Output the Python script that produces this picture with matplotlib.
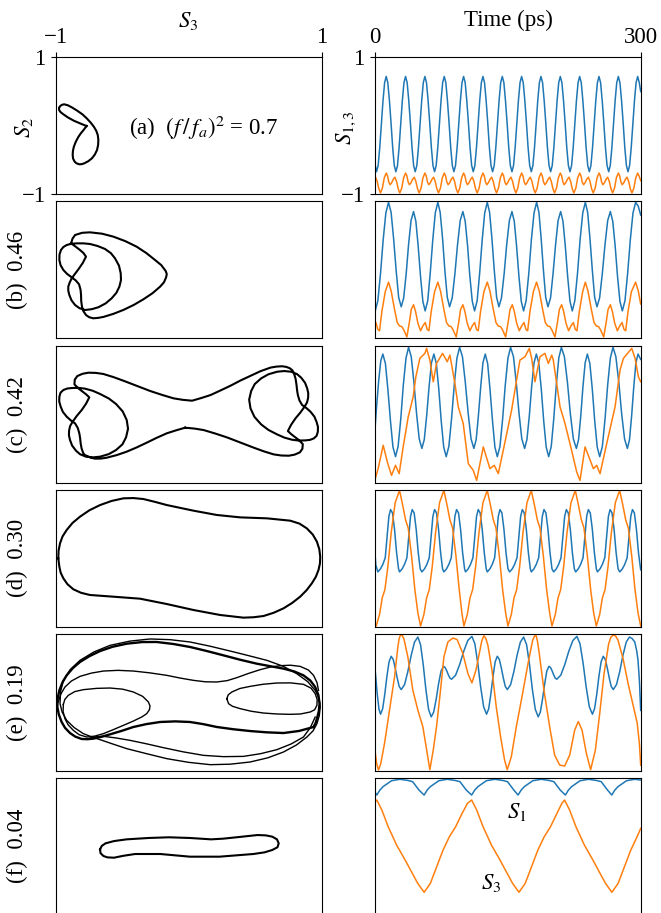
import numpy as np
import matplotlib
matplotlib.use("Agg")
import matplotlib.pyplot as plt

# ------------------------------------------
# Left column: trajectories on the (S3, S2) plane
# ------------------------------------------
A_LOOP = [(-0.767, -0.003), (-0.815, 0.035), (-0.862, 0.074), (-0.905, 0.120), (-0.941, 0.168),
          (-0.962, 0.200), (-0.973, 0.231), (-0.973, 0.265), (-0.964, 0.289), (-0.952, 0.306),
          (-0.935, 0.314), (-0.908, 0.300), (-0.878, 0.270), (-0.838, 0.222), (-0.798, 0.168),
          (-0.765, 0.108), (-0.735, 0.045), (-0.712, -0.013), (-0.694, -0.072), (-0.682, -0.138),
          (-0.678, -0.207), (-0.680, -0.282), (-0.688, -0.353), (-0.704, -0.418), (-0.726, -0.474),
          (-0.753, -0.516), (-0.783, -0.547), (-0.803, -0.560), (-0.821, -0.562), (-0.842, -0.548),
          (-0.856, -0.524), (-0.868, -0.478), (-0.871, -0.426), (-0.869, -0.365), (-0.862, -0.305),
          (-0.848, -0.235), (-0.830, -0.168), (-0.810, -0.110), (-0.789, -0.061), (-0.767, -0.003)]

B_LOOP = [(-0.883, 0.386), (-0.872, 0.455), (-0.853, 0.508), (-0.800, 0.540), (-0.741, 0.547),
          (-0.650, 0.527), (-0.565, 0.484), (-0.475, 0.418), (-0.390, 0.337), (-0.318, 0.245),
          (-0.252, 0.143), (-0.205, 0.068), (-0.172, -0.018), (-0.164, -0.062), (-0.169, -0.110),
          (-0.185, -0.182), (-0.214, -0.246), (-0.272, -0.343), (-0.340, -0.431), (-0.412, -0.513),
          (-0.490, -0.586), (-0.565, -0.643), (-0.640, -0.688), (-0.680, -0.702), (-0.716, -0.708),
          (-0.747, -0.692), (-0.771, -0.660), (-0.791, -0.602), (-0.801, -0.538), (-0.807, -0.452),
          (-0.808, -0.368), (-0.812, -0.290), (-0.823, -0.212), (-0.848, -0.155), (-0.878, -0.110),
          (-0.913, -0.060), (-0.941, -0.003), (-0.962, 0.068), (-0.971, 0.143), (-0.970, 0.222),
          (-0.959, 0.289), (-0.941, 0.332), (-0.916, 0.362), (-0.880, 0.380), (-0.841, 0.386),
          (-0.790, 0.386), (-0.741, 0.377), (-0.683, 0.347), (-0.628, 0.304), (-0.584, 0.243),
          (-0.553, 0.168), (-0.523, 0.060), (-0.510, -0.051), (-0.508, -0.150), (-0.520, -0.246),
          (-0.543, -0.337), (-0.578, -0.416), (-0.623, -0.490), (-0.678, -0.547), (-0.728, -0.575),
          (-0.778, -0.587), (-0.820, -0.560), (-0.853, -0.514), (-0.880, -0.445), (-0.896, -0.368),
          (-0.904, -0.305), (-0.904, -0.246), (-0.893, -0.183), (-0.878, -0.124), (-0.854, -0.060),
          (-0.828, 0.007), (-0.795, 0.100), (-0.771, 0.192), (-0.790, 0.245), (-0.816, 0.289),
          (-0.850, 0.340), (-0.883, 0.386)]

C_LOOP = [(-0.026, -0.197), (-0.095, -0.236), (-0.164, -0.279), (-0.240, -0.345), (-0.315, -0.416),
          (-0.390, -0.485), (-0.465, -0.547), (-0.540, -0.597), (-0.615, -0.635), (-0.660, -0.648),
          (-0.703, -0.649), (-0.735, -0.635), (-0.761, -0.611), (-0.780, -0.595), (-0.791, -0.571),
          (-0.804, -0.500), (-0.811, -0.425), (-0.815, -0.350), (-0.821, -0.279), (-0.833, -0.200),
          (-0.853, -0.134), (-0.885, -0.090), (-0.916, -0.036), (-0.945, 0.035), (-0.961, 0.110),
          (-0.972, 0.185), (-0.971, 0.256), (-0.962, 0.315), (-0.941, 0.353), (-0.912, 0.375),
          (-0.878, 0.382), (-0.828, 0.385), (-0.778, 0.373), (-0.720, 0.342), (-0.665, 0.295),
          (-0.600, 0.230), (-0.545, 0.149), (-0.495, 0.040), (-0.465, -0.085), (-0.455, -0.212),
          (-0.470, -0.338), (-0.497, -0.440), (-0.545, -0.523), (-0.600, -0.583), (-0.665, -0.620),
          (-0.718, -0.630), (-0.771, -0.620), (-0.815, -0.585), (-0.846, -0.533), (-0.875, -0.458),
          (-0.891, -0.377), (-0.899, -0.308), (-0.898, -0.240), (-0.890, -0.172), (-0.871, -0.109),
          (-0.840, -0.025), (-0.803, 0.061), (-0.770, 0.155), (-0.746, 0.246), (-0.770, 0.290),
          (-0.796, 0.329), (-0.830, 0.380), (-0.858, 0.436), (-0.855, 0.505), (-0.836, 0.557),
          (-0.797, 0.590), (-0.753, 0.606), (-0.697, 0.603), (-0.640, 0.587), (-0.565, 0.542),
          (-0.490, 0.489), (-0.390, 0.414), (-0.289, 0.339), (-0.200, 0.282), (-0.114, 0.232),
          (-0.045, 0.210),
          (0.026, 0.197), (0.095, 0.236), (0.164, 0.279), (0.240, 0.347), (0.315, 0.416),
          (0.390, 0.492), (0.465, 0.560), (0.540, 0.628), (0.615, 0.680), (0.660, 0.695),
          (0.703, 0.700), (0.735, 0.690), (0.761, 0.670), (0.780, 0.640), (0.791, 0.600),
          (0.804, 0.515), (0.811, 0.425), (0.815, 0.350), (0.821, 0.279), (0.833, 0.200),
          (0.853, 0.134), (0.885, 0.090), (0.916, 0.036), (0.945, -0.035), (0.961, -0.110),
          (0.972, -0.185), (0.971, -0.256), (0.962, -0.315), (0.941, -0.353), (0.912, -0.375),
          (0.878, -0.382), (0.828, -0.385), (0.778, -0.373), (0.720, -0.342), (0.665, -0.295),
          (0.600, -0.230), (0.545, -0.149), (0.495, -0.040), (0.465, 0.085), (0.455, 0.212),
          (0.470, 0.338), (0.497, 0.440), (0.545, 0.523), (0.600, 0.583), (0.665, 0.620),
          (0.718, 0.630), (0.771, 0.620), (0.815, 0.585), (0.846, 0.533), (0.875, 0.458),
          (0.891, 0.377), (0.899, 0.308), (0.898, 0.240), (0.890, 0.172), (0.871, 0.109),
          (0.840, 0.025), (0.803, -0.061), (0.770, -0.155), (0.746, -0.246), (0.770, -0.290),
          (0.796, -0.329), (0.830, -0.380), (0.858, -0.436), (0.855, -0.505), (0.836, -0.557),
          (0.797, -0.590), (0.753, -0.606), (0.697, -0.603), (0.640, -0.587), (0.565, -0.542),
          (0.490, -0.489), (0.390, -0.414), (0.289, -0.339), (0.200, -0.282), (0.114, -0.232),
          (0.045, -0.210), (-0.026, -0.197)]

D_LOOP = [(-0.979, -0.002), (-0.977, 0.107), (-0.966, 0.217), (-0.947, 0.318), (-0.916, 0.412),
          (-0.872, 0.515), (-0.816, 0.606), (-0.745, 0.700), (-0.665, 0.776), (-0.578, 0.836),
          (-0.490, 0.874), (-0.415, 0.878), (-0.340, 0.864), (-0.252, 0.822), (-0.164, 0.776),
          (0.036, 0.694), (0.212, 0.631), (0.388, 0.596), (0.588, 0.582), (0.763, 0.548),
          (0.833, 0.505), (0.888, 0.436), (0.933, 0.345), (0.964, 0.241), (0.982, 0.132),
          (0.989, 0.022), (0.987, -0.075), (0.976, -0.172), (0.956, -0.272), (0.926, -0.367),
          (0.886, -0.468), (0.838, -0.562), (0.779, -0.652), (0.713, -0.732), (0.640, -0.796),
          (0.563, -0.844), (0.488, -0.862), (0.412, -0.868), (0.237, -0.829), (0.036, -0.756),
          (-0.164, -0.669), (-0.365, -0.591), (-0.565, -0.562), (-0.741, -0.537), (-0.808, -0.505),
          (-0.866, -0.454), (-0.910, -0.380), (-0.941, -0.294), (-0.961, -0.212), (-0.971, -0.124),
          (-0.979, -0.002)]

# panel (e) is drawn as several passes of the same trajectory
E_MAIN = [(0.939, -0.362), (0.830, -0.420), (0.713, -0.450), (0.588, -0.440), (0.462, -0.421),
          (0.337, -0.395), (0.212, -0.362), (0.110, -0.320), (0.011, -0.289), (-0.100, -0.280),
          (-0.214, -0.289), (-0.318, -0.320), (-0.415, -0.362), (-0.505, -0.420), (-0.590, -0.469),
          (-0.655, -0.505), (-0.716, -0.532), (-0.760, -0.540), (-0.803, -0.537), (-0.852, -0.502),
          (-0.891, -0.450), (-0.928, -0.375), (-0.954, -0.289), (-0.975, -0.180), (-0.986, -0.070),
          (-0.984, 0.055), (-0.971, 0.173), (-0.948, 0.288), (-0.916, 0.392), (-0.870, 0.497),
          (-0.816, 0.587), (-0.745, 0.672), (-0.665, 0.747), (-0.570, 0.810), (-0.465, 0.854),
          (-0.350, 0.878), (-0.240, 0.879), (-0.115, 0.850), (0.011, 0.806), (0.135, 0.748),
          (0.262, 0.684), (0.387, 0.620), (0.513, 0.562), (0.615, 0.525), (0.713, 0.490),
          (0.795, 0.448), (0.863, 0.392), (0.915, 0.315), (0.951, 0.222), (0.975, 0.105),
          (0.984, -0.021), (0.978, -0.135), (0.964, -0.240), (0.955, -0.300), (0.939, -0.362)]
E_OUTER = [(-0.941, 0.319), (-0.890, 0.475), (-0.816, 0.611), (-0.710, 0.735), (-0.590, 0.830),
           (-0.440, 0.892), (-0.289, 0.923), (-0.140, 0.913), (0.011, 0.879), (0.160, 0.818),
           (0.312, 0.747), (0.450, 0.680), (0.588, 0.611), (0.710, 0.525), (0.813, 0.416),
           (0.895, 0.300), (0.951, 0.173), (0.980, 0.055), (0.989, -0.070), (0.982, -0.195),
           (0.964, -0.314), (0.935, -0.418), (0.889, -0.508), (0.810, -0.625), (0.713, -0.727),
           (0.595, -0.812), (0.462, -0.873), (0.312, -0.905), (0.162, -0.912), (0.000, -0.878),
           (-0.164, -0.824), (-0.315, -0.752), (-0.465, -0.678), (-0.570, -0.610), (-0.665, -0.547),
           (-0.730, -0.505), (-0.791, -0.459), (-0.860, -0.370), (-0.916, -0.265), (-0.950, -0.145),
           (-0.966, -0.021), (-0.962, 0.150), (-0.941, 0.319)]
E_LOW = [(0.951, -0.217), (0.915, -0.370), (0.863, -0.508), (0.770, -0.610), (0.663, -0.693),
         (0.540, -0.752), (0.412, -0.791), (0.262, -0.795), (0.112, -0.776), (-0.040, -0.725),
         (-0.189, -0.664), (-0.315, -0.608), (-0.440, -0.557), (-0.545, -0.522), (-0.640, -0.498),
         (-0.700, -0.505), (-0.741, -0.523)]
E_MID = [(-0.979, 0.003), (-0.960, 0.118), (-0.929, 0.222), (-0.880, 0.310), (-0.816, 0.377),
         (-0.730, 0.425), (-0.640, 0.455), (-0.530, 0.465), (-0.415, 0.455), (-0.290, 0.428),
         (-0.164, 0.392), (-0.065, 0.353), (0.036, 0.319), (0.125, 0.298), (0.212, 0.295),
         (0.290, 0.315), (0.362, 0.358), (0.450, 0.420), (0.538, 0.475), (0.612, 0.512),
         (0.688, 0.533), (0.765, 0.540), (0.838, 0.523), (0.900, 0.470), (0.939, 0.392),
         (0.965, 0.285), (0.976, 0.173)]
E_LEFT = [(-0.941, -0.032), (-0.930, 0.040), (-0.904, 0.100), (-0.855, 0.155), (-0.791, 0.183),
          (-0.690, 0.202), (-0.590, 0.207), (-0.495, 0.190), (-0.415, 0.149), (-0.345, 0.085),
          (-0.302, 0.003), (-0.290, -0.055), (-0.294, -0.109), (-0.315, -0.168), (-0.352, -0.216),
          (-0.415, -0.275), (-0.490, -0.338), (-0.565, -0.400), (-0.640, -0.459), (-0.705, -0.495),
          (-0.766, -0.508), (-0.822, -0.475), (-0.866, -0.411), (-0.905, -0.330), (-0.929, -0.241),
          (-0.943, -0.135), (-0.941, -0.032)]
E_RIGHT = [(0.287, 0.052), (0.298, 0.108), (0.325, 0.149), (0.385, 0.200), (0.462, 0.231),
           (0.560, 0.262), (0.663, 0.280), (0.765, 0.282), (0.863, 0.261), (0.920, 0.205),
           (0.951, 0.125), (0.966, 0.040), (0.964, -0.046), (0.947, -0.110), (0.914, -0.143),
           (0.840, -0.172), (0.763, -0.177), (0.662, -0.172), (0.562, -0.158), (0.470, -0.132),
           (0.387, -0.094), (0.330, -0.060), (0.300, -0.021), (0.287, 0.052)]

F_LOOP = [(-0.665, -0.045), (-0.652, 0.005), (-0.624, 0.042), (-0.560, 0.075), (-0.466, 0.100),
          (-0.300, 0.120), (-0.148, 0.130), (0.010, 0.120), (0.169, 0.100), (0.260, 0.110),
          (0.359, 0.130), (0.518, 0.163), (0.580, 0.158), (0.629, 0.139), (0.664, 0.100),
          (0.677, 0.042), (0.668, -0.015), (0.629, -0.055), (0.570, -0.090), (0.486, -0.114),
          (0.232, -0.153), (0.010, -0.153), (-0.212, -0.114), (-0.402, -0.114), (-0.490, -0.140),
          (-0.561, -0.168), (-0.610, -0.163), (-0.640, -0.143), (-0.662, -0.100), (-0.665, -0.045)]

# ------------------------------------------
# Right column: S1 (blue) and S3 (orange) against time (ps)
# ------------------------------------------
A_S1_T = [0, 2.3, 4.1, 5.9, 7.8, 9.6, 11.4, 13.2, 15.0, 16.8, 18.7, 20.5, 22.3,
          24.1, 25.9, 27.7, 29.6, 31.4, 33.2, 35.0, 36.8, 38.6, 40.5, 42.3, 44.1,
          45.9, 47.7, 49.5, 51.4, 53.2, 55.0, 56.8, 58.6, 60.4, 62.3, 64.1, 65.9,
          67.7, 69.5, 71.3, 73.2, 75.0, 76.8, 78.6, 80.4, 82.2, 84.1, 85.9, 87.7,
          89.5, 91.3, 93.1, 95.0, 96.8, 98.6, 100.4, 102.2, 104.0, 105.9, 107.7, 109.5,
          111.3, 113.1, 114.9, 116.8, 118.6, 120.4, 122.2, 124.0, 125.8, 127.7, 129.5, 131.3,
          133.1, 134.9, 136.7, 138.6, 140.4, 142.2, 144.0, 145.8, 147.6, 149.5, 151.3, 153.1,
          154.9, 156.7, 158.5, 160.4, 162.2, 164.0, 165.8, 167.6, 169.4, 171.3, 173.1, 174.9,
          176.7, 178.5, 180.3, 182.2, 184.0, 185.8, 187.6, 189.4, 191.2, 193.1, 194.9, 196.7,
          198.5, 200.3, 202.1, 204.0, 205.8, 207.6, 209.4, 211.2, 213.0, 214.9, 216.7, 218.5,
          220.3, 222.1, 223.9, 225.8, 227.6, 229.4, 231.2, 233.0, 234.8, 236.7, 238.5, 240.3,
          242.1, 243.9, 245.7, 247.6, 249.4, 251.2, 253.0, 254.8, 256.6, 258.5, 260.3, 262.1,
          263.9, 265.7, 267.5, 269.4, 271.2, 273.0, 274.8, 276.6, 278.4, 280.3, 282.1, 283.9,
          285.7, 287.5, 289.3, 291.2, 293.0, 294.8, 296.6, 298.4, 300]
A_S1_Y = [-0.52, -0.67, -0.58, -0.32, 0.03, 0.37, 0.63, 0.72, 0.63, 0.37, 0.03, -0.32, -0.58,
          -0.67, -0.58, -0.32, 0.03, 0.37, 0.63, 0.72, 0.63, 0.37, 0.03, -0.32, -0.58,
          -0.67, -0.58, -0.32, 0.03, 0.37, 0.63, 0.72, 0.63, 0.37, 0.03, -0.32, -0.58,
          -0.67, -0.58, -0.32, 0.03, 0.37, 0.63, 0.72, 0.63, 0.37, 0.03, -0.32, -0.58,
          -0.67, -0.58, -0.32, 0.03, 0.37, 0.63, 0.72, 0.63, 0.37, 0.03, -0.32, -0.58,
          -0.67, -0.58, -0.32, 0.03, 0.37, 0.63, 0.72, 0.63, 0.37, 0.03, -0.32, -0.58,
          -0.67, -0.58, -0.32, 0.03, 0.37, 0.63, 0.72, 0.63, 0.37, 0.03, -0.32, -0.58,
          -0.67, -0.58, -0.32, 0.03, 0.37, 0.63, 0.72, 0.63, 0.37, 0.03, -0.32, -0.58,
          -0.67, -0.58, -0.32, 0.03, 0.37, 0.63, 0.72, 0.63, 0.37, 0.03, -0.32, -0.58,
          -0.67, -0.58, -0.32, 0.03, 0.37, 0.63, 0.72, 0.63, 0.37, 0.03, -0.32, -0.58,
          -0.67, -0.58, -0.32, 0.03, 0.37, 0.63, 0.72, 0.63, 0.37, 0.03, -0.32, -0.58,
          -0.67, -0.58, -0.32, 0.03, 0.37, 0.63, 0.72, 0.63, 0.37, 0.03, -0.32, -0.58,
          -0.67, -0.58, -0.32, 0.03, 0.37, 0.63, 0.72, 0.63, 0.37, 0.03, -0.32, -0.58,
          -0.67, -0.58, -0.32, 0.03, 0.37, 0.63, 0.72, 0.63, 0.50]

A_S3_T = [0, 1.2, 3.0, 4.9, 6.7, 8.9, 11.0,
          13.2, 14.7, 16.1, 17.6, 19.4, 21.2, 23.0, 24.8, 26.7, 28.5, 30.7, 32.8,
          35.0, 36.5, 37.9, 39.4, 41.2, 43.0, 44.8, 46.6, 48.5, 50.3, 52.5, 54.6,
          56.8, 58.3, 59.7, 61.2, 63.0, 64.8, 66.6, 68.4, 70.3, 72.1, 74.3, 76.4,
          78.6, 80.1, 81.5, 83.0, 84.8, 86.6, 88.4, 90.2, 92.1, 93.9, 96.1, 98.2,
          100.4, 101.9, 103.3, 104.8, 106.6, 108.4, 110.2, 112.0, 113.9, 115.7, 117.9, 120.0,
          122.2, 123.7, 125.1, 126.6, 128.4, 130.2, 132.0, 133.8, 135.7, 137.5, 139.7, 141.8,
          144.0, 145.5, 146.9, 148.4, 150.2, 152.0, 153.8, 155.6, 157.5, 159.3, 161.5, 163.6,
          165.8, 167.3, 168.7, 170.2, 172.0, 173.8, 175.6, 177.4, 179.3, 181.1, 183.3, 185.4,
          187.6, 189.1, 190.5, 192.0, 193.8, 195.6, 197.4, 199.2, 201.1, 202.9, 205.1, 207.2,
          209.4, 210.9, 212.3, 213.8, 215.6, 217.4, 219.2, 221.0, 222.9, 224.7, 226.9, 229.0,
          231.2, 232.7, 234.1, 235.6, 237.4, 239.2, 241.0, 242.8, 244.7, 246.5, 248.7, 250.8,
          253.0, 254.5, 255.9, 257.4, 259.2, 261.0, 262.8, 264.6, 266.5, 268.3, 270.5, 272.6,
          274.8, 276.3, 277.7, 279.2, 281.0, 282.8, 284.6, 286.4, 288.3, 290.1, 292.3, 294.4,
          296.6, 298.1, 300]
A_S3_Y = [-0.76, -0.75, -0.81, -0.92, -0.98, -0.91, -0.76,
          -0.69, -0.73, -0.82, -0.86, -0.83, -0.78, -0.75, -0.81, -0.92, -0.98, -0.91, -0.76,
          -0.69, -0.73, -0.82, -0.86, -0.83, -0.78, -0.75, -0.81, -0.92, -0.98, -0.91, -0.76,
          -0.69, -0.73, -0.82, -0.86, -0.83, -0.78, -0.75, -0.81, -0.92, -0.98, -0.91, -0.76,
          -0.69, -0.73, -0.82, -0.86, -0.83, -0.78, -0.75, -0.81, -0.92, -0.98, -0.91, -0.76,
          -0.69, -0.73, -0.82, -0.86, -0.83, -0.78, -0.75, -0.81, -0.92, -0.98, -0.91, -0.76,
          -0.69, -0.73, -0.82, -0.86, -0.83, -0.78, -0.75, -0.81, -0.92, -0.98, -0.91, -0.76,
          -0.69, -0.73, -0.82, -0.86, -0.83, -0.78, -0.75, -0.81, -0.92, -0.98, -0.91, -0.76,
          -0.69, -0.73, -0.82, -0.86, -0.83, -0.78, -0.75, -0.81, -0.92, -0.98, -0.91, -0.76,
          -0.69, -0.73, -0.82, -0.86, -0.83, -0.78, -0.75, -0.81, -0.92, -0.98, -0.91, -0.76,
          -0.69, -0.73, -0.82, -0.86, -0.83, -0.78, -0.75, -0.81, -0.92, -0.98, -0.91, -0.76,
          -0.69, -0.73, -0.82, -0.86, -0.83, -0.78, -0.75, -0.81, -0.92, -0.98, -0.91, -0.76,
          -0.69, -0.73, -0.82, -0.86, -0.83, -0.78, -0.75, -0.81, -0.92, -0.98, -0.91, -0.76,
          -0.69, -0.73, -0.82, -0.86, -0.83, -0.78, -0.75, -0.81, -0.92, -0.98, -0.91, -0.76,
          -0.69, -0.73, -0.80]

B_S1_T = [0, 0.8, 3.8, 6.8, 9.8, 12.8, 15.8, 18.7, 21.5, 24.4, 27.2, 30.1, 32.9, 35.7, 38.4, 41.2,
          44.0, 46.6, 49.2, 51.9, 54.5, 57.1, 60.0, 62.8, 65.7, 68.5, 71.4, 74.0, 76.7, 79.3, 82.0,
          84.6, 87.6, 90.6, 93.6, 96.6, 99.6, 102.2, 104.9, 107.5, 110.2, 112.8, 115.7, 118.5, 121.4,
          124.2, 127.1, 129.7, 132.3, 135.0, 137.6, 140.2, 143.1, 146.1, 149.0, 152.0, 154.9, 157.5,
          160.1, 162.8, 165.4, 168.0, 170.9, 173.9, 176.8, 179.8, 182.7, 185.3, 187.8, 190.4, 192.9,
          195.5, 198.4, 201.2, 204.1, 206.9, 209.8, 212.4, 215.0, 217.7, 220.3, 222.9, 225.8, 228.8,
          231.7, 234.7, 237.6, 240.2, 242.8, 245.5, 248.1, 250.7, 253.7, 256.7, 259.8, 262.8, 265.8,
          268.5, 271.2, 273.9, 276.6, 279.3, 282.3, 285.3, 288.3, 291.3, 294.3, 297.2, 300]
B_S1_Y = [-0.59, -0.60,
          -0.45, -0.05, 0.44, 0.83, 0.985, 0.84, 0.46, -0.01, -0.40, -0.54,
          -0.41, -0.06, 0.37, 0.72, 0.85, 0.71, 0.35, -0.10, -0.46, -0.60,
          -0.45, -0.05, 0.44, 0.83, 0.985, 0.84, 0.46, -0.01, -0.40, -0.54,
          -0.41, -0.06, 0.37, 0.72, 0.85, 0.71, 0.35, -0.10, -0.46, -0.60,
          -0.45, -0.05, 0.44, 0.83, 0.985, 0.84, 0.46, -0.01, -0.40, -0.54,
          -0.41, -0.06, 0.37, 0.72, 0.85, 0.71, 0.35, -0.10, -0.46, -0.60,
          -0.45, -0.05, 0.44, 0.83, 0.985, 0.84, 0.46, -0.01, -0.40, -0.54,
          -0.41, -0.06, 0.37, 0.72, 0.85, 0.71, 0.35, -0.10, -0.46, -0.60,
          -0.45, -0.05, 0.44, 0.83, 0.985, 0.84, 0.46, -0.01, -0.40, -0.54,
          -0.41, -0.06, 0.37, 0.72, 0.85, 0.71, 0.35, -0.10, -0.46, -0.60,
          -0.45, -0.05, 0.44, 0.83, 0.985, 0.93, 0.80]
B_S3 = [(0, -0.80), (1.6, -0.77), (3.8, -0.87), (5.7, -0.89), (8.3, -0.61), (12.1, -0.32),
        (15.8, -0.18), (18.8, -0.31), (22.6, -0.58), (25.6, -0.77), (28.2, -0.82), (30.8, -0.83),
        (33.1, -0.88), (36.5, -0.98), (39.5, -0.75), (41.4, -0.58), (44.0, -0.51), (46.3, -0.61),
        (48.9, -0.78), (51.9, -0.89), (54.5, -0.82), (57.2, -0.77), (59.4, -0.87), (61.3, -0.89),
        (63.9, -0.61), (67.7, -0.32),
        (71.4, -0.18), (74.4, -0.31), (78.2, -0.58), (81.2, -0.77), (83.8, -0.82), (86.4, -0.83),
        (88.7, -0.88), (92.1, -0.98), (95.1, -0.75), (97.0, -0.58), (99.6, -0.51), (101.9, -0.61),
        (104.5, -0.78), (107.5, -0.89), (110.1, -0.82), (112.8, -0.77), (115.0, -0.87), (116.9, -0.89),
        (119.5, -0.61), (123.3, -0.32),
        (127.1, -0.18), (130.1, -0.31), (133.9, -0.58), (136.9, -0.77), (139.5, -0.82), (142.1, -0.83),
        (144.4, -0.88), (147.8, -0.98), (150.8, -0.75), (152.7, -0.58), (155.3, -0.51), (157.6, -0.61),
        (160.2, -0.78), (163.2, -0.89), (165.8, -0.82), (168.5, -0.77), (170.7, -0.87), (172.6, -0.89),
        (175.2, -0.61), (179.0, -0.32),
        (182.7, -0.18), (185.7, -0.31), (189.5, -0.58), (192.5, -0.77), (195.1, -0.82), (197.7, -0.83),
        (200.0, -0.88), (203.4, -0.98), (206.4, -0.75), (208.3, -0.58), (210.9, -0.51), (213.2, -0.61),
        (215.8, -0.78), (218.8, -0.89), (221.4, -0.82), (224.1, -0.77), (226.3, -0.87), (228.2, -0.89),
        (230.8, -0.61), (234.6, -0.32),
        (237.6, -0.18), (240.6, -0.31), (244.4, -0.58), (247.4, -0.77), (250.0, -0.82), (252.6, -0.83),
        (254.9, -0.88), (258.3, -0.98), (261.3, -0.75), (263.2, -0.58), (265.8, -0.51), (268.1, -0.61),
        (270.7, -0.78), (273.7, -0.89), (276.3, -0.82), (279.0, -0.77), (281.2, -0.87), (283.1, -0.89),
        (285.7, -0.61), (289.5, -0.32),
        (294.3, -0.18), (297.3, -0.31), (300, -0.50)]

C_S1_T = [0, 2.4, 4.8, 7.1, 9.4, 12.3, 15.1, 18.0, 20.8, 23.7, 26.6, 29.6, 32.5, 35.5, 38.4, 41.4,
          44.4, 47.4, 50.4, 53.4, 56.1, 58.8, 61.5, 64.2, 66.9, 69.7, 72.5, 75.2, 78.0, 80.8, 83.8,
          86.8, 89.9, 92.9, 95.9, 99.1, 102.3, 105.6, 108.8, 112.0, 114.6, 117.1, 119.7, 122.2, 124.8,
          127.5, 130.2, 133.0, 135.7, 138.4, 141.4, 144.4, 147.4, 150.4, 153.4, 156.6, 159.7, 162.9,
          166.0, 169.2, 171.8, 174.5, 177.1, 179.8, 182.4, 185.2, 188.0, 190.7, 193.5, 196.3, 199.2,
          202.0, 204.9, 207.7, 210.6, 214.0, 217.4, 220.7, 224.1, 227.5, 230.0, 232.5, 234.9, 237.4,
          239.9, 242.7, 245.5, 248.2, 251.0, 253.8, 256.8, 259.8, 262.8, 265.8, 268.8, 272.0, 275.3,
          278.5, 281.8, 285.0, 287.4, 289.8, 292.2, 294.6, 297.0, 300]
C_S1_Y = [-0.32, 0.12, 0.50, 0.78, 0.878,
          0.74, 0.36, -0.10, -0.48, -0.62, -0.47, -0.07, 0.43, 0.82, 0.976,
          0.84, 0.47, 0.01, -0.36, -0.50, -0.37, -0.02, 0.40, 0.75, 0.878,
          0.74, 0.36, -0.10, -0.48, -0.62, -0.47, -0.07, 0.43, 0.82, 0.976,
          0.84, 0.47, 0.01, -0.36, -0.50, -0.37, -0.02, 0.40, 0.75, 0.878,
          0.74, 0.36, -0.10, -0.48, -0.62, -0.47, -0.07, 0.43, 0.82, 0.976,
          0.84, 0.47, 0.01, -0.36, -0.50, -0.37, -0.02, 0.40, 0.75, 0.878,
          0.74, 0.36, -0.10, -0.48, -0.62, -0.47, -0.07, 0.43, 0.82, 0.976,
          0.84, 0.47, 0.01, -0.36, -0.50, -0.37, -0.02, 0.40, 0.75, 0.878,
          0.74, 0.36, -0.10, -0.48, -0.62, -0.47, -0.07, 0.43, 0.82, 0.976,
          0.84, 0.47, 0.01, -0.36, -0.50, -0.37, -0.02, 0.40, 0.75, 0.878,
          0.80]
C_S3 = [(0, -0.98), (4.0, -0.80), (9.8, -0.454), (14.5, -0.70), (19.2, -0.893), (23.7, -0.746),
        (27.8, -0.868), (32.3, -0.478), (38.0, -0.039), (43.6, 0.254), (46.6, 0.546), (51.1, 0.815),
        (56.8, 0.888), (58.7, 0.961), (62.4, 0.790), (66.2, 0.473), (69.9, 0.741), (76.7, 0.888),
        (82.0, 0.766), (85.0, 0.863), (90.6, 0.449), (94.4, 0.107), (100.0, -0.137), (105.7, -0.722),
        (111.3, -0.820), (115.1, -0.966), (122.6, -0.478), (130.1, -0.795), (135.0, -0.746),
        (139.5, -0.868), (145.1, -0.527), (154.5, 0.059), (163.9, 0.790), (169.6, 0.839),
        (174.5, 0.961), (177.1, 0.815), (180.9, 0.473), (186.5, 0.839), (192.1, 0.888), (195.9, 0.741),
        (199.7, 0.863), (201.5, 0.790), (209.1, 0.107), (214.7, -0.137), (220.3, -0.429),
        (227.9, -0.844), (231.6, -0.966), (237.3, -0.478), (246.7, -0.795), (250.4, -0.746),
        (254.2, -0.868), (261.7, -0.429), (271.1, 0.107), (276.7, 0.644), (280.5, 0.815),
        (289.9, 0.961), (293.7, 0.815), (297.4, 0.546), (300, 0.473)]

D_S1 = [(0, 0.17), (1.5, -0.10), (3.8, -0.20),
        (6.8, -0.155), (9.4, -0.09), (12.1, 0.005), (14.3, 0.32), (16.2, 0.61), (18.1, 0.71),
        (20.3, 0.66), (22.6, 0.42), (24.9, 0.08), (27.1, -0.155), (28.2, -0.20),
        (31.2, -0.155), (33.8, -0.09), (36.5, 0.005), (38.7, 0.32), (40.6, 0.61), (42.5, 0.71),
        (44.7, 0.66), (47.0, 0.42), (49.3, 0.08), (51.5, -0.155), (53.4, -0.20),
        (56.4, -0.155), (59.0, -0.09), (61.7, 0.005), (63.9, 0.32), (65.8, 0.61), (67.7, 0.71),
        (69.9, 0.66), (72.2, 0.42), (74.5, 0.08), (76.7, -0.155), (78.2, -0.20),
        (81.2, -0.155), (83.8, -0.09), (86.5, 0.005), (88.7, 0.32), (90.6, 0.61), (92.5, 0.71),
        (94.7, 0.66), (97.0, 0.42), (99.3, 0.08), (101.5, -0.155), (102.6, -0.20),
        (105.6, -0.155), (108.2, -0.09), (110.9, 0.005), (113.1, 0.32), (115.0, 0.61), (116.9, 0.71),
        (119.1, 0.66), (121.4, 0.42), (123.7, 0.08), (125.9, -0.155), (127.1, -0.20),
        (130.1, -0.155), (132.7, -0.09), (135.4, 0.005), (137.6, 0.32), (139.5, 0.61), (141.4, 0.71),
        (143.6, 0.66), (145.9, 0.42), (148.2, 0.08), (150.4, -0.155), (152.3, -0.20),
        (155.3, -0.155), (157.9, -0.09), (160.6, 0.005), (162.8, 0.32), (164.7, 0.61), (166.6, 0.71),
        (168.8, 0.66), (171.1, 0.42), (173.4, 0.08), (175.6, -0.155), (176.7, -0.20),
        (179.7, -0.155), (182.3, -0.09), (185.0, 0.005), (187.2, 0.32), (189.1, 0.61), (191.0, 0.71),
        (193.2, 0.66), (195.5, 0.42), (197.8, 0.08), (200.0, -0.155), (201.9, -0.20),
        (204.9, -0.155), (207.5, -0.09), (210.2, 0.005), (212.4, 0.32), (214.3, 0.61), (216.2, 0.71),
        (218.4, 0.66), (220.7, 0.42), (223.0, 0.08), (225.2, -0.155), (226.7, -0.20),
        (229.7, -0.155), (232.3, -0.09), (235.0, 0.005), (237.2, 0.32), (239.1, 0.61), (241.0, 0.71),
        (243.2, 0.66), (245.5, 0.42), (247.8, 0.08), (250.0, -0.155), (251.2, -0.20),
        (254.2, -0.155), (256.8, -0.09), (259.5, 0.005), (261.7, 0.32), (263.6, 0.61), (265.5, 0.71),
        (267.7, 0.66), (270.0, 0.42), (272.3, 0.08), (274.5, -0.155), (276.4, -0.20),
        (279.4, -0.155), (282.0, -0.09), (284.7, 0.005), (286.9, 0.32), (288.8, 0.61), (290.7, 0.71),
        (292.9, 0.66), (295.2, 0.42), (297.5, 0.08), (300, -0.17)]
D_S3 = [(0, -0.95), (1.9, -0.99),
        (5.7, -0.82), (8.7, -0.58), (11.7, -0.46), (15.1, -0.12), (18.8, 0.37), (23.3, 0.81),
        (28.2, 0.99), (32.0, 0.76), (35.0, 0.56), (38.0, 0.44), (41.8, 0.03), (45.5, -0.46),
        (48.9, -0.80), (51.9, -0.99),
        (55.7, -0.82), (58.7, -0.58), (61.7, -0.46), (65.1, -0.12), (68.8, 0.37), (73.3, 0.81),
        (78.2, 0.99), (82.0, 0.76), (85.0, 0.56), (88.0, 0.44), (91.8, 0.03), (95.5, -0.46),
        (98.5, -0.80), (100.8, -0.99),
        (104.6, -0.82), (107.6, -0.58), (110.6, -0.46), (114.0, -0.12), (117.7, 0.37), (122.2, 0.81),
        (127.1, 0.99), (130.9, 0.76), (133.9, 0.56), (136.9, 0.44), (140.7, 0.03), (144.4, -0.46),
        (147.8, -0.80), (150.4, -0.99),
        (154.2, -0.82), (157.2, -0.58), (160.2, -0.46), (163.6, -0.12), (167.3, 0.37), (171.8, 0.81),
        (176.7, 0.99), (180.5, 0.76), (183.5, 0.56), (186.5, 0.44), (190.3, 0.03), (194.0, -0.46),
        (197.4, -0.80), (200.0, -0.99),
        (203.8, -0.82), (206.8, -0.58), (209.8, -0.46), (213.2, -0.12), (216.9, 0.37), (221.4, 0.81),
        (226.3, 0.99), (230.1, 0.76), (233.1, 0.56), (236.1, 0.44), (239.9, 0.03), (243.6, -0.46),
        (247.0, -0.80), (250.0, -0.99),
        (253.8, -0.82), (256.8, -0.58), (259.8, -0.46), (263.2, -0.12), (266.9, 0.37), (271.4, 0.81),
        (276.3, 0.99), (280.1, 0.76), (283.1, 0.56), (286.1, 0.44), (289.9, 0.03), (293.6, -0.46),
        (297.0, -0.80), (300, -0.99)]

E_S1_T = [0, 1.5, 3.0, 5.0, 6.8, 9.2, 11.6, 14.0, 16.4, 18.8, 21.1, 23.3, 25.6, 27.8, 30.1, 33.9,
          37.6, 41.4, 45.1, 48.9, 51.9, 54.9, 57.9, 60.9, 63.9, 66.7, 69.5, 72.2, 75.0, 77.8, 79.6,
          81.4, 83.2, 85.0, 86.8, 91.4, 96.0, 100.6, 105.2, 109.8, 113.1, 116.4, 119.7, 123.0, 126.3,
          128.7, 131.1, 133.6, 136.0, 138.4, 140.7, 142.9, 145.2, 147.4, 149.7, 153.4, 157.1, 160.7,
          164.4, 168.1, 171.4, 174.7, 177.9, 181.2, 184.5, 186.9, 189.3, 191.8, 194.2, 196.6, 198.4,
          200.1, 201.9, 203.6, 205.4, 209.9, 214.5, 219.0, 223.6, 228.1, 231.6, 235.1, 238.6, 242.1,
          245.6, 248.0, 250.5, 252.9, 255.4, 257.8, 260.1, 262.3, 264.6, 266.8, 269.1, 272.7, 276.4,
          280.0, 283.7, 287.3, 290.3, 293.3, 295.5, 297.0, 298.6, 300]
E_S1_Y = [0.56, 0.36, 0.13, -0.10, -0.175,
          -0.095, 0.117, 0.378, 0.590, 0.670, 0.624, 0.502, 0.352, 0.230, 0.184,
          0.257, 0.449, 0.686, 0.878, 0.951, 0.840, 0.549, 0.188, -0.103, -0.214,
          -0.144, 0.041, 0.269, 0.454, 0.524, 0.506, 0.459, 0.400, 0.353, 0.335,
          0.394, 0.551, 0.745, 0.902, 0.961, 0.853, 0.569, 0.217, -0.067, -0.175,
          -0.095, 0.117, 0.378, 0.590, 0.670, 0.624, 0.502, 0.352, 0.230, 0.184,
          0.257, 0.449, 0.686, 0.878, 0.951, 0.840, 0.549, 0.188, -0.103, -0.214,
          -0.144, 0.041, 0.269, 0.454, 0.524, 0.506, 0.459, 0.400, 0.353, 0.335,
          0.394, 0.551, 0.745, 0.902, 0.961, 0.853, 0.569, 0.217, -0.067, -0.175,
          -0.095, 0.117, 0.378, 0.590, 0.670, 0.624, 0.502, 0.352, 0.230, 0.184,
          0.257, 0.449, 0.686, 0.878, 0.951, 0.93, 0.88, 0.75, 0.61, 0.30, -0.12]
E_S3 = [(0, -0.650), (2.5, -0.90), (4.5, -0.990), (7.0, -0.90), (11.3, -0.602), (16.9, -0.117),
        (22.6, 0.369), (26.3, 0.806), (27.8, 0.93), (29.3, 0.981), (31.2, 0.975), (33.1, 0.927),
        (37.6, 0.660), (43.2, 0.175), (48.9, -0.117), (54.5, -0.359), (59.4, -0.748), (62.4, -0.985),
        (66.2, -0.699), (69.9, -0.359), (74.4, 0.175), (78.2, 0.660), (82.7, 0.879), (88.4, 0.937),
        (93.2, 0.913), (99.6, 0.709), (105.3, 0.417), (109.8, 0.282), (114.3, 0.466), (118.8, 0.757),
        (121.0, 0.90), (123.3, 0.971), (125.5, 0.93), (127.8, 0.830), (132.4, 0.466),
        (137.2, -0.068), (142.1, -0.505), (146.6, -0.845), (149.6, -0.985), (154.2, -0.796),
        (159.8, -0.359), (166.2, 0.078), (173.0, 0.563), (178.2, 0.903), (180.1, 0.96), (182.0, 0.981),
        (183.8, 0.88), (185.7, 0.709), (191.0, 0.175), (197.4, -0.359), (203.0, -0.772), (208.7, -0.917),
        (214.3, -0.932), (220.0, -0.772), (225.6, -0.408), (229.7, -0.282), (233.9, -0.408),
        (238.8, -0.748), (243.6, -0.985), (248.9, -0.699), (253.8, -0.165), (258.7, 0.417),
        (263.9, 0.854), (266.5, 0.95), (269.2, 0.981), (271.8, 0.965), (274.5, 0.903), (280.1, 0.636),
        (285.8, 0.272), (291.0, -0.02), (296.0, -0.30), (298.5, -0.60), (300, -0.92)]

F_S1 = [(0, 0.80), (2.6, 0.747), (6.1, 0.82), (9.7, 0.87), (19.2, 0.956), (28.7, 0.977), (37.6, 0.96),
        (43.0, 0.942), (50.1, 0.82), (55.9, 0.747), (59.4, 0.82), (63.0, 0.87), (72.5, 0.956),
        (82.0, 0.977), (90.9, 0.96), (96.3, 0.942), (103.4, 0.82), (109.5, 0.747), (113.0, 0.82),
        (116.6, 0.87), (126.1, 0.956), (135.6, 0.977), (144.5, 0.96), (149.9, 0.942), (157.0, 0.82),
        (161.8, 0.747), (165.3, 0.82), (168.9, 0.87), (178.4, 0.956), (187.9, 0.977), (196.8, 0.96),
        (202.2, 0.942), (209.3, 0.82), (215.1, 0.747), (218.6, 0.82), (222.2, 0.87), (231.7, 0.956),
        (241.2, 0.977), (250.1, 0.96), (255.5, 0.942), (262.6, 0.82), (267.4, 0.747), (270.9, 0.82),
        (274.5, 0.87), (284.0, 0.956), (293.5, 0.977), (300, 0.965)]
F_S3 = [(0, 0.64), (2.6, 0.674), (8.3, 0.528), (15.4, 0.285), (24.9, 0.017), (34.5, -0.201),
        (41.6, -0.372), (48.7, -0.542), (55.9, -0.673), (63.0, -0.542), (70.1, -0.299),
        (77.3, -0.055), (84.4, 0.139), (91.5, 0.285), (98.7, 0.479), (104.8, 0.626),
        (109.5, 0.674), (115.2, 0.528), (122.3, 0.285), (131.8, 0.017), (141.4, -0.201),
        (148.5, -0.372), (155.6, -0.542), (162.8, -0.673), (169.9, -0.542), (177.0, -0.299),
        (184.2, -0.055), (191.3, 0.139), (198.4, 0.285), (205.6, 0.479), (211.2, 0.626),
        (214.2, 0.674), (219.9, 0.528), (227.0, 0.285), (236.5, 0.017), (246.1, -0.201),
        (253.2, -0.372), (260.3, -0.542), (267.5, -0.673), (274.6, -0.542), (281.7, -0.299),
        (288.9, -0.055), (296.0, 0.139), (300, 0.26)]

ROW_LABELS = [r"$S_2$", "(b)  0.46", "(c)  0.42", "(d)  0.30", "(e)  0.19", "(f)  0.04"]
BLUE = "#1f77b4"
ORANGE = "#ff7f0e"

plt.rcParams['font.family'] = 'serif'
plt.rcParams['font.serif'] = ['Liberation Serif', 'DejaVu Serif']
plt.rcParams['mathtext.fontset'] = 'stix'
plt.rcParams['font.size'] = 16.5


def draw(ax, pts, **kw):
    x, y = np.array(pts).T
    ax.plot(x, y, **kw)


# ------------------------------------------
# Figure layout (pixel boxes of the original)
# ------------------------------------------
W, H = 661, 913
fig = plt.figure(figsize=(W / 100, H / 100), dpi=100)
col_left = [55.5, 374.5]
col_w, row_h = 266.2, 137
row_top = [57.3, 201.3, 345.7, 489.7, 633.7, 777.7]

axes = []
for top in row_top:
    pair = []
    for left in col_left:
        ax = fig.add_axes([left / W, 1 - (top + row_h) / H, col_w / W, row_h / H])
        ax.set_ylim(-1, 1)
        ax.set_xticks([])
        ax.set_yticks([])
        pair.append(ax)
    pair[0].set_xlim(-1, 1)
    pair[1].set_xlim(0, 300)
    axes.append(pair)

# phase-space panels
for i, pts in [(0, A_LOOP), (1, B_LOOP), (2, C_LOOP), (3, D_LOOP), (5, F_LOOP)]:
    draw(axes[i][0], pts, color='black', lw=1.5)
draw(axes[4][0], E_MAIN, color='black', lw=1.7)
for pts in [E_OUTER, E_LOW, E_MID, E_LEFT, E_RIGHT]:
    draw(axes[4][0], pts, color='black', lw=1.0)

# time series panels
series = [(list(zip(A_S1_T, A_S1_Y)), list(zip(A_S3_T, A_S3_Y))),
          (list(zip(B_S1_T, B_S1_Y)), B_S3),
          (list(zip(C_S1_T, C_S1_Y)), C_S3),
          (D_S1, D_S3),
          (list(zip(E_S1_T, E_S1_Y)), E_S3),
          (F_S1, F_S3)]
for i, (s1, s3) in enumerate(series):
    draw(axes[i][1], s1, color=BLUE, lw=1.1)
    draw(axes[i][1], s3, color=ORANGE, lw=1.1)

# ticks only on the top row
ax_l, ax_r = axes[0]
ax_l.set_xticks([-1, 1])
ax_l.set_yticks([-1, 1])
ax_r.set_xticks([0, 300])
ax_r.set_yticks([-1, 1])
for ax in (ax_l, ax_r):
    ax.xaxis.tick_top()

ax_l.text(-0.45, -0.03, r"(a)  $(f\,/\,f_a)^2$ = 0.7", ha='left', va='center')
axes[5][1].text(160, 0.50, r"$S_1$", ha='center', va='center')
axes[5][1].text(131, -0.54, r"$S_3$", ha='center', va='center')

# axis titles placed in figure pixels
fig.text(188 / W, 1 - 21 / H, r"$S_3$", ha='center', va='center')
fig.text(508 / W, 1 - 20 / H, "Time (ps)", ha='center', va='center')
fig.text(346 / W, 1 - 128 / H, r"$S_{1,3}$", ha='center', va='center', rotation=90)
fig.text(24 / W, 1 - 127 / H, ROW_LABELS[0], ha='center', va='center', rotation=90)
for top, lab in zip(row_top[1:], ROW_LABELS[1:]):
    fig.text(17 / W, 1 - (top + row_h / 2) / H, lab, ha='center', va='center', rotation=90)

fig.savefig("out.png", dpi=100)
